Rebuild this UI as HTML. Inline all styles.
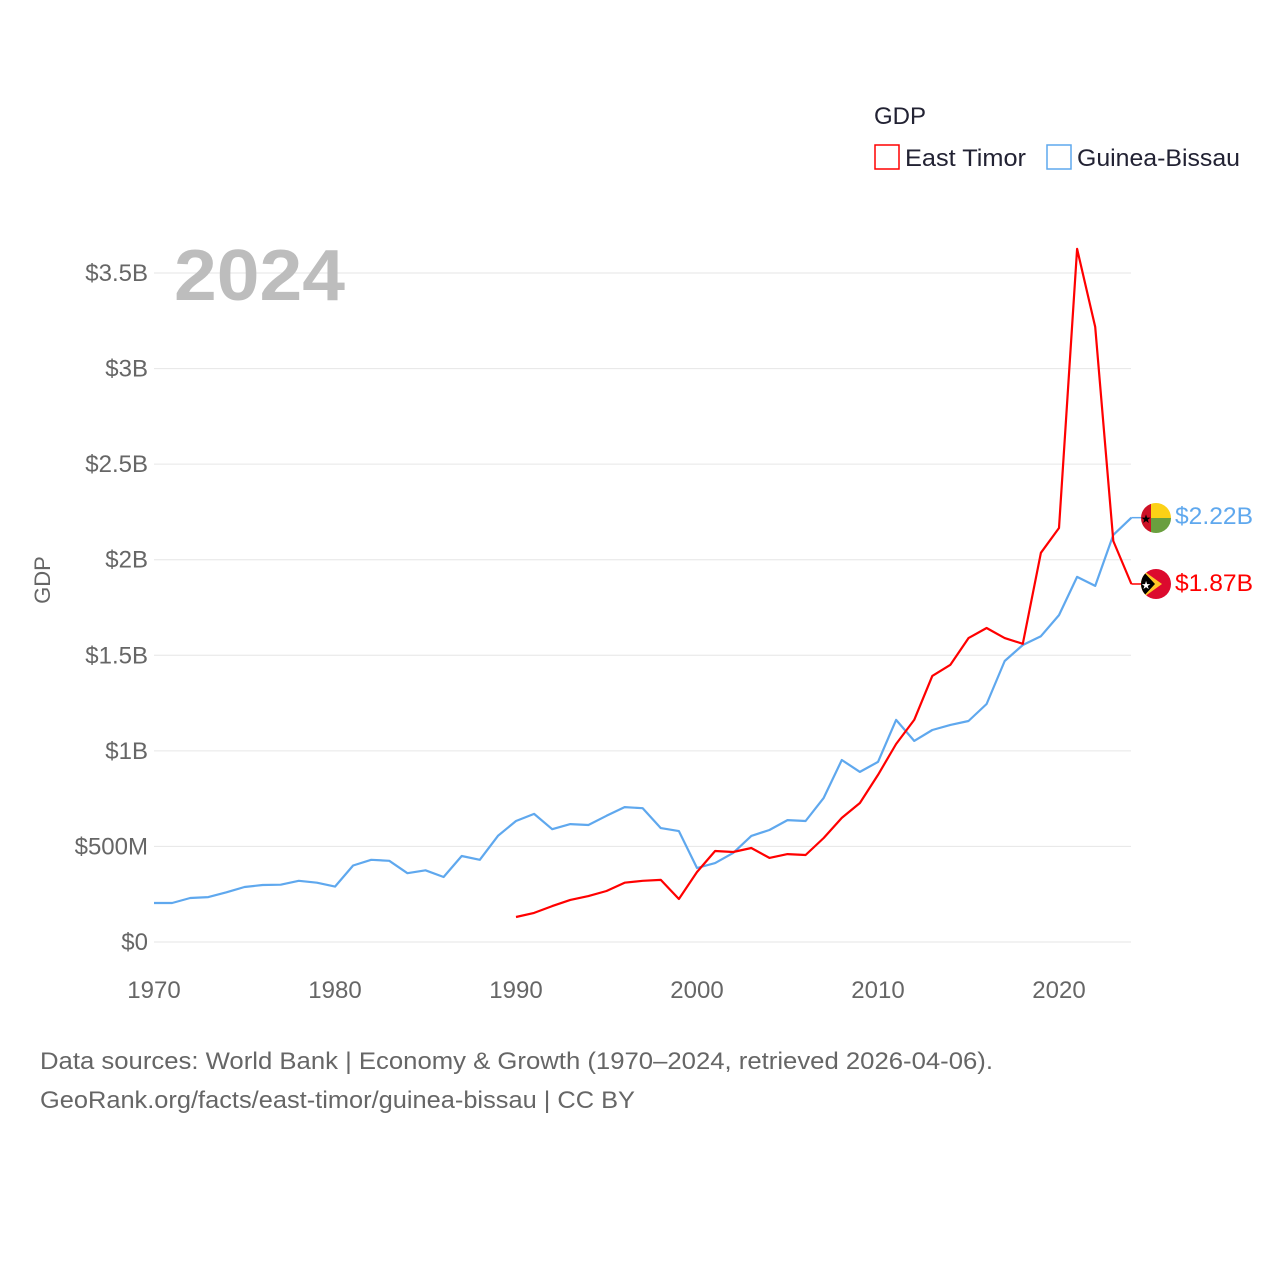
<!DOCTYPE html>
<html><head><meta charset="utf-8"><style>
html,body{margin:0;padding:0;background:#fff;}
body{width:1280px;height:1280px;overflow:hidden;font-family:"Liberation Sans",sans-serif;}
</style></head><body>
<svg id="chart" width="1280" height="1280" xmlns="http://www.w3.org/2000/svg" font-family="Liberation Sans, sans-serif">
<g id="grid"></g>
<g id="yticks"></g>
<g id="xticks"></g>
<text x="174" y="300" font-size="72" font-weight="bold" fill="#bdbdbd" textLength="171" lengthAdjust="spacingAndGlyphs">2024</text>
<text transform="translate(50,580) rotate(-90)" text-anchor="middle" font-size="22" fill="#666">GDP</text>
<g id="series"></g>
<g>
<text x="874" y="124" font-size="24" fill="#223">GDP</text>
<g><rect x="875" y="145" width="24" height="24" fill="none" stroke="#ff0000" stroke-width="1.5"/><text x="905" y="166" font-size="24" fill="#223" textLength="121" lengthAdjust="spacingAndGlyphs">East Timor</text></g>
<g><rect x="1047" y="145" width="24" height="24" fill="none" stroke="#5fa8ee" stroke-width="1.5"/><text x="1077" y="166" font-size="24" fill="#223" textLength="163" lengthAdjust="spacingAndGlyphs">Guinea-Bissau</text></g>
</g>
<g>
<clipPath id="c1"><circle cx="1156" cy="518" r="15"/></clipPath>
<g clip-path="url(#c1)"><rect x="1141" y="503" width="10" height="30" fill="#ce1126"/><rect x="1151" y="503" width="20" height="15" fill="#fcd116"/><rect x="1151" y="518" width="20" height="15" fill="#6a9f3e"/><text x="1146" y="523" font-size="12" text-anchor="middle" fill="#000">★</text></g>
</g>
<g>
<clipPath id="c2"><circle cx="1156" cy="584" r="15"/></clipPath>
<g clip-path="url(#c2)"><rect x="1141" y="569" width="30" height="30" fill="#dc0a2e"/><polygon points="1141,569 1162,584 1141,599" fill="#ffc726"/><polygon points="1141,569 1155,584 1141,599" fill="#000"/><text x="1146" y="589" font-size="11" text-anchor="middle" fill="#fff">★</text></g>
</g>
<text x="1175" y="524" font-size="24" fill="#5fa8ee" textLength="78" lengthAdjust="spacingAndGlyphs">$2.22B</text>
<text x="1175" y="591" font-size="24" fill="#ff0000" textLength="78" lengthAdjust="spacingAndGlyphs">$1.87B</text>
<text x="40" y="1069" font-size="24" fill="#666" textLength="953" lengthAdjust="spacingAndGlyphs">Data sources: World Bank | Economy &amp; Growth (1970–2024, retrieved 2026-04-06).</text>
<text x="40" y="1108" font-size="24" fill="#666" textLength="595" lengthAdjust="spacingAndGlyphs">GeoRank.org/facts/east-timor/guinea-bissau | CC BY</text>
</svg>
<script>
const gbYears=[1970,1971,1972,1973,1974,1975,1976,1977,1978,1979,1980,1981,1982,1983,1984,1985,1986,1987,1988,1989,1990,1991,1992,1993,1994,1995,1996,1997,1998,1999,2000,2001,2002,2003,2004,2005,2006,2007,2008,2009,2010,2011,2012,2013,2014,2015,2016,2017,2018,2019,2020,2021,2022,2023,2024];
const gbValues=[0.204,0.204,0.23,0.235,0.26,0.288,0.298,0.30,0.32,0.31,0.29,0.40,0.43,0.425,0.36,0.375,0.34,0.45,0.43,0.555,0.633,0.67,0.59,0.617,0.612,0.66,0.706,0.70,0.596,0.58,0.387,0.413,0.466,0.555,0.586,0.638,0.633,0.754,0.952,0.89,0.942,1.162,1.052,1.109,1.136,1.156,1.245,1.47,1.554,1.60,1.71,1.91,1.863,2.13,2.22];
const etYears=[1990,1991,1992,1993,1994,1995,1996,1997,1998,1999,2000,2001,2002,2003,2004,2005,2006,2007,2008,2009,2010,2011,2012,2013,2014,2015,2016,2017,2018,2019,2020,2021,2022,2023,2024];
const etValues=[0.131,0.152,0.188,0.22,0.24,0.267,0.31,0.32,0.325,0.225,0.366,0.476,0.471,0.492,0.44,0.46,0.455,0.544,0.649,0.727,0.874,1.036,1.162,1.392,1.45,1.59,1.643,1.59,1.56,2.036,2.166,3.626,3.218,2.098,1.873];
const yTickValues=[0,0.5,1,1.5,2,2.5,3,3.5];
const yTickLabels=["$0","$500M","$1B","$1.5B","$2B","$2.5B","$3B","$3.5B"];
const xTickValues=[1970,1980,1990,2000,2010,2020];

const NS="http://www.w3.org/2000/svg";
const x=y=>154+(y-1970)*(1059-154)/50;
const yS=v=>942-v*(942-273)/3.5;
function mk(tag,attrs,parent){const e=document.createElementNS(NS,tag);for(const k in attrs)e.setAttribute(k,attrs[k]);parent.appendChild(e);return e;}
const grid=document.getElementById('grid'),yt=document.getElementById('yticks'),xt=document.getElementById('xticks'),ser=document.getElementById('series');
yTickValues.forEach((v,i)=>{
  const l=mk('line',{x1:154,x2:1131,y1:yS(v),y2:yS(v),stroke:'#e6e6e6','stroke-width':1},grid);
  
  
  const t=mk('text',{x:148,y:yS(v)+8,'text-anchor':'end','font-size':24,fill:'#666'},yt);
  t.textContent=yTickLabels[i];
  
  
});
xTickValues.forEach(v=>{
  const t=mk('text',{x:x(v),y:998,'text-anchor':'middle','font-size':24,fill:'#666'},xt);
  t.textContent=v;
  
  
});
function line(years,vals,color,name){
  const d=years.map((yr,i)=>(i?'L':'M')+x(yr).toFixed(1)+','+yS(vals[i]).toFixed(1)).join('');
  const p=mk('path',{d:d,fill:'none',stroke:color,'stroke-width':2.2,'stroke-linejoin':'round'},ser);
  
  
  const lx=x(years[years.length-1]),ly=yS(vals[vals.length-1]);
  const c=mk('line',{x1:lx,x2:lx+10,y1:ly,y2:ly,stroke:color,'stroke-width':1.5},ser);
  
  
}
line(gbYears,gbValues,'#5fa8ee','line-guinea-bissau');
line(etYears,etValues,'#ff0000','line-east-timor');
</script>
</body></html>
